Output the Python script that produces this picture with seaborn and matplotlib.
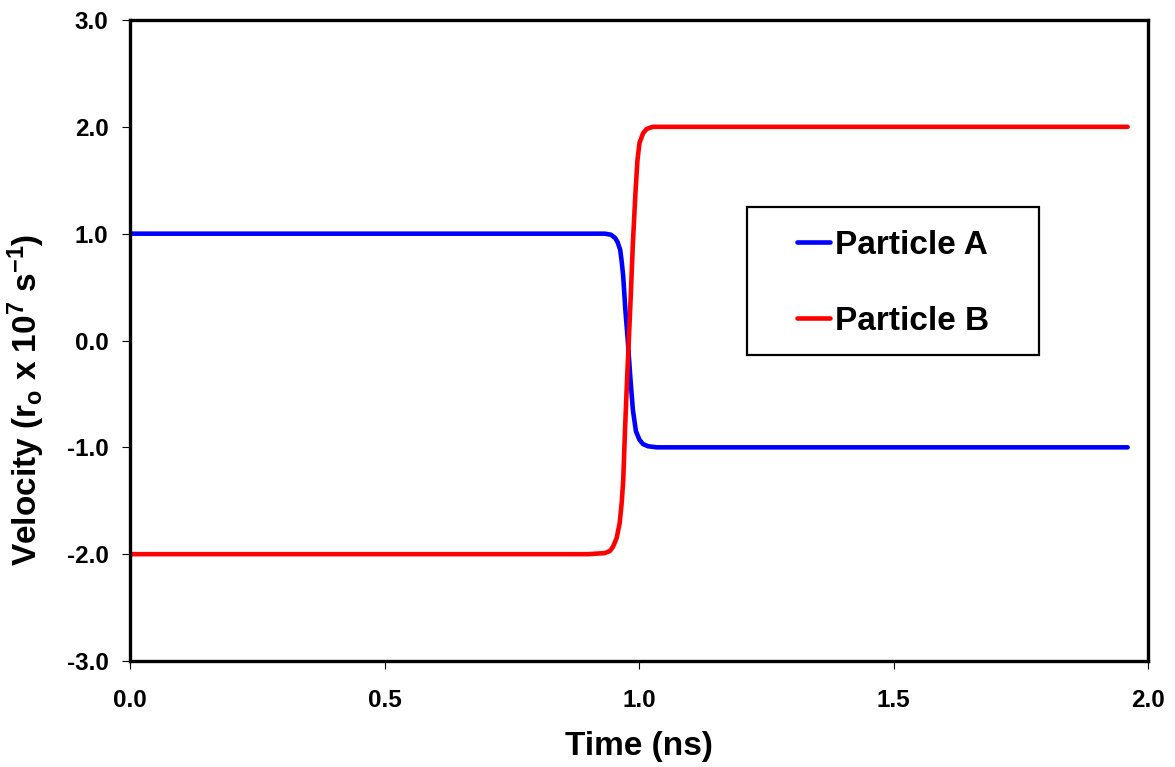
import matplotlib
matplotlib.use("Agg")
import matplotlib.pyplot as plt
from matplotlib.patches import Rectangle
import seaborn as sns
import pandas as pd

# ---- data ----
time_a = [0.0, 0.5, 0.90, 0.933, 0.945, 0.953, 0.958, 0.963, 0.966, 0.969,
          0.973, 0.978, 0.983, 0.988, 0.994, 1.001, 1.008, 1.018, 1.035,
          1.2, 1.6, 1.96]
vel_a = [1.0, 1.0, 1.0, 1.0, 0.99, 0.96, 0.92, 0.85, 0.74, 0.60,
         0.30, 0.0, -0.35, -0.65, -0.85, -0.93, -0.97, -0.99, -1.0,
         -1.0, -1.0, -1.0]

time_b = [0.0, 0.5, 0.90, 0.933, 0.943, 0.949, 0.956, 0.962, 0.966, 0.969,
          0.9725, 0.9765, 0.980, 0.984, 0.988, 0.993, 0.997, 1.001, 1.008,
          1.015, 1.027, 1.2, 1.6, 1.96]
vel_b = [-2.0, -2.0, -2.0, -1.99, -1.97, -1.93, -1.85, -1.71, -1.52, -1.31,
         -0.84, -0.37, 0.0, 0.44, 0.91, 1.38, 1.69, 1.85, 1.94,
         1.98, 2.0, 2.0, 2.0, 2.0]

series_names = ["Particle A", "Particle B"]
series_colors = ["#0000FF", "#FF0000"]
x_ticks = [0.0, 0.5, 1.0, 1.5, 2.0]
y_ticks = [-3.0, -2.0, -1.0, 0.0, 1.0, 2.0, 3.0]

df = pd.concat([
    pd.DataFrame({"Time": time_a, "Velocity": vel_a, "Series": series_names[0]}),
    pd.DataFrame({"Time": time_b, "Velocity": vel_b, "Series": series_names[1]}),
], ignore_index=True)

sns.set_theme(style="white")
plt.rcParams["font.family"] = ["Liberation Sans", "DejaVu Sans"]
plt.rcParams["font.weight"] = "bold"
plt.rcParams["mathtext.default"] = "regular"
plt.rcParams["text.color"] = "black"

fig = plt.figure(figsize=(11.75, 7.67), dpi=100)
ax = fig.add_axes([130 / 1175, 1 - 661 / 767, (1148 - 130) / 1175, (661 - 20) / 767])

sns.lineplot(data=df, x="Time", y="Velocity", hue="Series",
             palette=dict(zip(series_names, series_colors)),
             linewidth=3.3, sort=False, estimator=None, ax=ax, legend=False)

ax.set_xlim(0, 2)
ax.set_ylim(-3, 3)
ax.set_xticks(x_ticks)
ax.set_yticks(y_ticks)
ax.set_xticklabels([f"{v:.1f}" for v in x_ticks], fontsize=17.5, fontweight="bold")
ax.set_yticklabels([f"{v:.1f}" for v in y_ticks], fontsize=17.5, fontweight="bold")

for s in ax.spines.values():
    s.set_visible(True)
    s.set_color("black")
    s.set_linewidth(2.4)

ax.tick_params(axis="both", which="major", direction="out", length=5.5,
               width=0.8, color="black", labelcolor="black",
               left=True, bottom=True, top=False, right=False)
ax.tick_params(axis="x", pad=15)
ax.tick_params(axis="y", pad=10)

ax.set_xlabel("Time (ns)", fontsize=24, fontweight="bold", color="black")
ax.set_ylabel("Velocity (r$_{o}$ x 10$^{7}$ s$^{-1}$)", fontsize=24,
              fontweight="bold", color="black")
ax.xaxis.set_label_coords(0.5, -(762 - 661) / 641, transform=ax.transAxes)
ax.xaxis.label.set_verticalalignment("bottom")
ax.yaxis.set_label_coords(-(130 - 47) / 1018, (661 - 400) / 641)

# legend frame (Excel-style fixed box)
ax.add_patch(Rectangle(((747 - 130) / 1018, (661 - 355) / 641),
                       (1039 - 747) / 1018, (355 - 207) / 641,
                       transform=ax.transAxes, fill=False, edgecolor="black",
                       linewidth=1.6, zorder=5))

handles = [plt.Line2D([], [], color=c, linewidth=3.3) for c in series_colors]
leg = ax.legend(handles, series_names, loc="center left",
                bbox_to_anchor=((797 - 130) / 1018, (661 - 283) / 641),
                frameon=False, handlelength=1.0, handletextpad=0.15,
                labelspacing=1.35, borderpad=0, borderaxespad=0,
                labelcolor="black",
                prop={"family": "Liberation Sans", "weight": "bold", "size": 24})

fig.savefig("out.png", dpi=100, facecolor="white")
